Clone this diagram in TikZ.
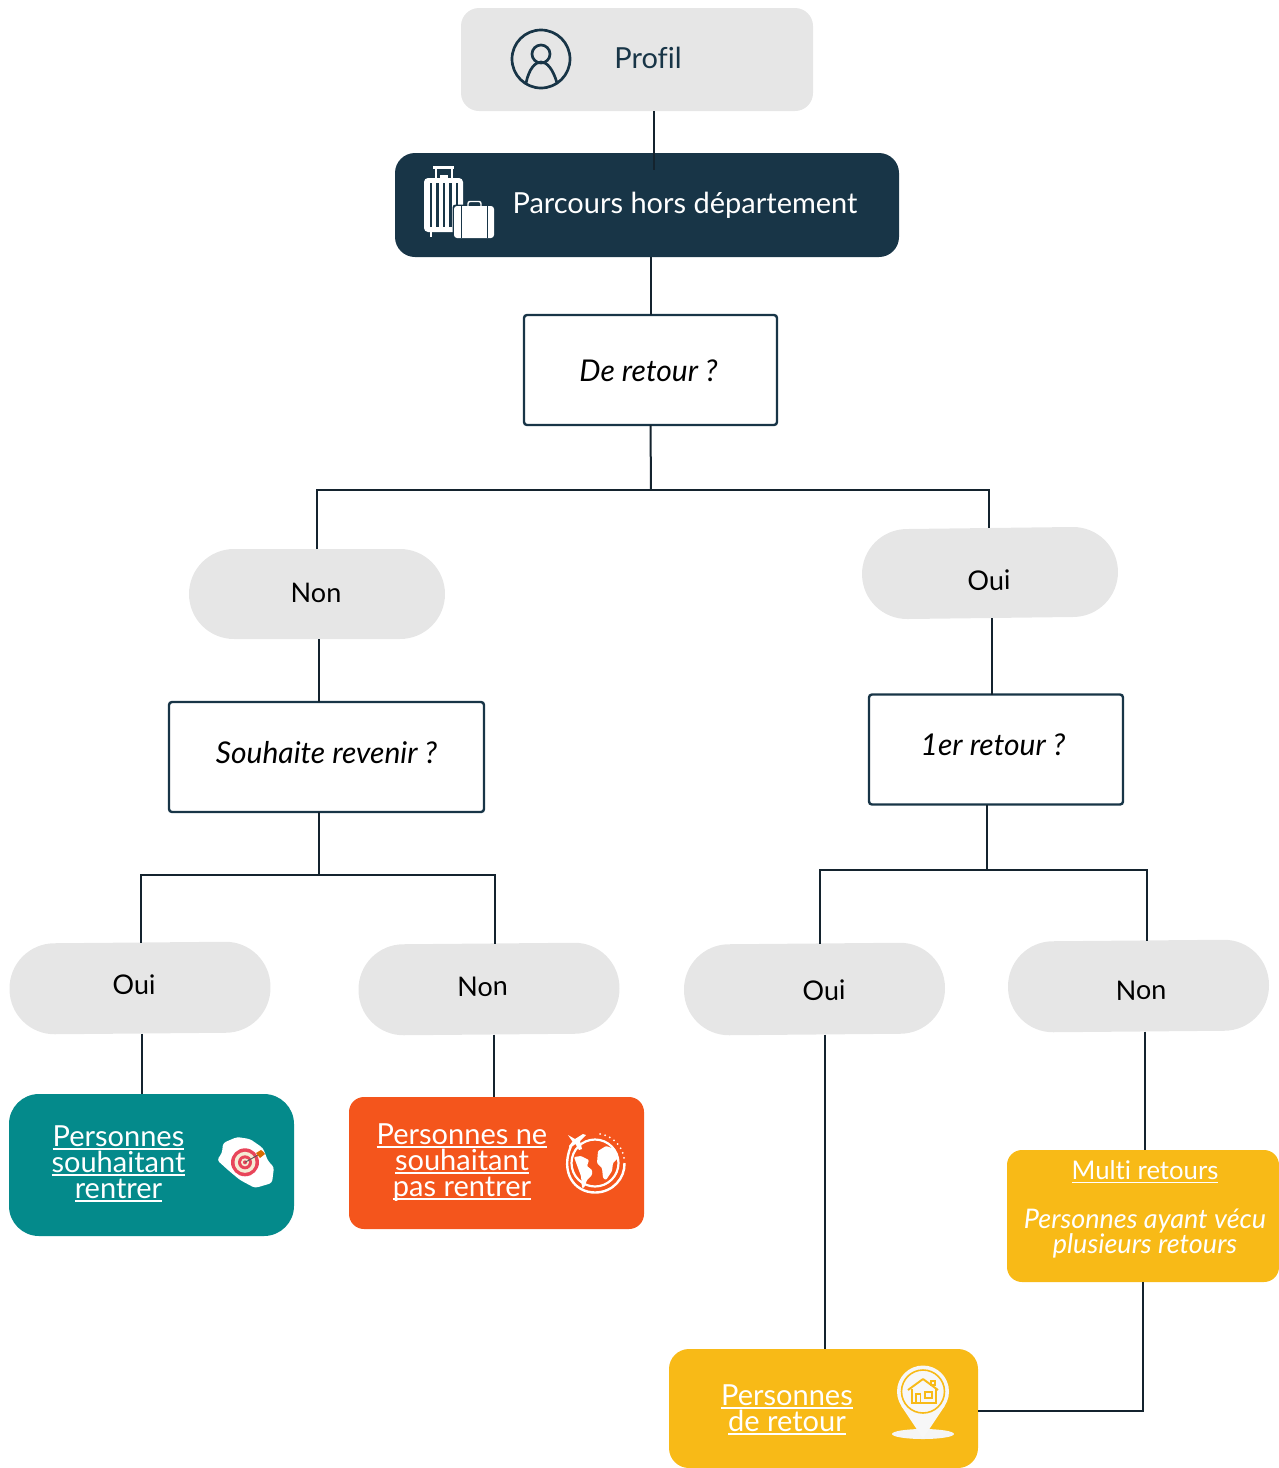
\documentclass[tikz,border=0pt]{standalone}
\usepackage{fontspec}
\usetikzlibrary{calc}
\setmainfont[Ligatures=NoCommon]{Lato}
\definecolor{navy}{HTML}{183547}
\definecolor{greybox}{HTML}{E6E6E6}
\definecolor{tealbox}{HTML}{048A8B}
\definecolor{orangebox}{HTML}{F4551C}
\definecolor{yellowbox}{HTML}{F8BA17}
\definecolor{tgtred}{HTML}{E8455A}
\definecolor{tgtcream}{HTML}{F5EBD5}
\definecolor{linecol}{HTML}{14232E}
% shifted text block: dx right, dy down from the centre of the node; size, leading; lines
\newcommand\boxtext[5]{\raisebox{\dimexpr-#2pt-10.5pt\relax}[0pt][0pt]{\makebox[0pt]{\hspace{\dimexpr 2\dimexpr #1pt\relax\relax}\fontsize{#3}{#4}\selectfont\begin{tabular}{@{}c@{}}#5\end{tabular}}}}
\newcommand\ulk[1]{\smash{\setbox0\hbox{#1}\rlap{\rule[-3.5pt]{\wd0}{1.7pt}}\box0}}
\newcommand\itl[1]{\smash{\fontsize{27}{24.5}\selectfont\itshape #1}}
\tikzset{
  x=1pt,y=-1pt,
  base/.style={inner sep=0pt,outer sep=0pt,anchor=center},
  softbox/.style={base,fill=greybox,rounded corners=18pt,text=navy},
  darkbox/.style={base,fill=navy,rounded corners=20pt,text=white},
  question/.style={base,draw=navy,line width=2.4pt,rounded corners=3pt,fill=white,text=black},
  pill/.style={base,fill=greybox,rounded corners=45pt,text=black},
  result/.style={base,text=white},
  link/.style={draw=linecol,line width=2pt},
}
\begin{document}
\begin{tikzpicture}
\useasboundingbox (0,0) rectangle (1279,1468);
% nodes
\node[softbox,minimum width=352pt,minimum height=103pt] (profil) at (637,59.5) {\boxtext{11}{-1.5}{29}{29}{Profil}};
\node[darkbox,minimum width=504pt,minimum height=104pt] (parcours) at (647,205) {\boxtext{38}{-2}{29}{29}{Parcours hors département}};
\node[question,minimum width=253pt,minimum height=110pt] (deretour) at (650.5,370) {\boxtext{-2}{1}{30}{30}{\itshape De retour ?}};
\node[pill,minimum width=256pt,minimum height=90pt] (nonA) at (317,594) {\boxtext{-1}{-1}{27}{27}{Non}};
\node[pill,minimum width=256pt,minimum height=90pt,rotate=0.7] (ouiA) at (990,573) {\boxtext{-1}{7}{27}{27}{Oui}};
\node[question,minimum width=315pt,minimum height=110pt] (souhaite) at (326.5,757) {\boxtext{0}{-4}{30}{30}{\itshape Souhaite revenir ?}};
\node[question,minimum width=254pt,minimum height=110pt] (premier) at (996,749.5) {\boxtext{-3}{-4.5}{30}{30}{\itshape 1er retour ?}};
\node[pill,minimum width=261pt,minimum height=91pt,rotate=0.5] (ouiB) at (140,988) {\boxtext{-6}{-4}{27}{27}{Oui}};
\node[pill,minimum width=261pt,minimum height=91pt,rotate=0.5] (nonB) at (489,989) {\boxtext{-6.5}{-3}{27}{27}{Non}};
\node[pill,minimum width=261pt,minimum height=91pt,rotate=0.5] (ouiC) at (814.5,989) {\boxtext{9.5}{1}{27}{27}{Oui}};
\node[pill,minimum width=261pt,minimum height=91pt,rotate=0.5] (nonC) at (1138.5,986) {\boxtext{2.5}{4}{27}{27}{Non}};
\node[result,fill=tealbox,rounded corners=30pt,minimum width=285pt,minimum height=142pt] (souhaitant) at (151.5,1165) {\boxtext{-33}{-2}{29}{26}{\ulk{Personnes}\\ \ulk{souhaitant}\\ \ulk{rentrer}}};
\node[result,fill=orangebox,rounded corners=15pt,minimum width=295pt,minimum height=132pt] (nepas) at (496.5,1163) {\boxtext{-34.5}{-2}{29}{26}{\ulk{Personnes ne}\\ \ulk{souhaitant}\\ \ulk{pas rentrer}}};
\node[result,fill=yellowbox,rounded corners=15pt,minimum width=272pt,minimum height=132pt] (multi) at (1143,1216) {\boxtext{2}{-8.5}{25.7}{24.5}{\ulk{Multi retours}\\ \\ \itl{Personnes ayant vécu}\\ \itl{plusieurs retours}}};
\node[result,fill=yellowbox,rounded corners=20pt,minimum width=309pt,minimum height=119pt] (retour) at (823.5,1408.5) {\boxtext{-36.5}{0.5}{29}{26}{\ulk{Personnes}\\ \ulk{de retour}}};
% branching points
\coordinate (jA) at (651,490);
\coordinate (jB) at (318.5,875);
\coordinate (jC) at (986.5,870);
\coordinate (jD) at (1143,1411);
% connectors
\draw[link] ([xshift=17pt]profil.south) -- ([xshift=7pt,yshift=-17pt]parcours.north);
\draw[link] (parcours.south -| deretour.south) -- (deretour.north);
\draw[link] (deretour.south) -- (jA);
\draw[link] (nonA.north) -- (nonA.north |- jA) -- (ouiA.north |- jA) -- (ouiA.north);
\draw[link] (nonA.south -| jB) -- (souhaite.north -| jB);
\draw[link] ([xshift=1pt]ouiA.south) -- ([xshift=1pt]ouiA.south |- premier.north);
\draw[link] (souhaite.south -| jB) -- (jB);
\draw[link] ([xshift=1.5pt]ouiB.north) -- ([xshift=1.5pt]ouiB.north |- jB) -- ([xshift=6pt]nonB.north |- jB) -- ([xshift=6pt]nonB.north);
\draw[link] (premier.south -| jC) -- (jC);
\draw[link] ([xshift=5.5pt]ouiC.north) -- ([xshift=5.5pt]ouiC.north |- jC) -- ([xshift=8.5pt]nonC.north |- jC) -- ([xshift=8.5pt]nonC.north);
\draw[link] ([xshift=1.5pt]ouiB.south) -- ([xshift=1.5pt]ouiB.south |- souhaitant.north);
\draw[link] ([xshift=5pt]nonB.south) -- ([xshift=5pt]nonB.south |- nepas.north);
\draw[link] ([xshift=10pt]ouiC.south) -- ([xshift=10pt]ouiC.south |- retour.north);
\draw[link] ([xshift=6pt]nonC.south) -- ([xshift=6pt]nonC.south |- multi.north);
\draw[link] (multi.south) -- (jD) -- (retour.east |- jD);
% icon: profile
\draw[navy,line width=2.7pt] (541,59) circle[radius=29];
\draw[navy,line width=2.7pt] (541,54) circle[radius=9];
\draw[navy,line width=2.7pt] (526,83) .. controls (529,69) and (535,62) .. (541,62) .. controls (547,62) and (553,69) .. (557,83);
% icon: luggage
\begin{scope}
\fill[white,rounded corners=4pt] (424,178) rectangle (463,232);
\foreach \sx in {429.5,436,442.5,449,455.5}{\fill[navy] (\sx,183) rectangle ++(2.6,44);}
\fill[white] (433,166) rectangle (454,168.5);
\fill[white] (434.5,168) rectangle (436.8,178);
\fill[white] (451,168) rectangle (453.3,178);
\fill[white] (439.5,175) rectangle (448,178);
\fill[white] (429.5,232) rectangle (432,237);
\fill[navy,rounded corners=3pt] (452.5,204.5) rectangle (495.5,239);
\draw[white,line width=1.4pt,rounded corners=2pt] (468,206) -- (468,201.5) -- (481,201.5) -- (481,206);
\fill[white,rounded corners=3pt] (454,206) rectangle (494,238);
\draw[navy,line width=.9pt] (461,206) -- (461,238) (487,206) -- (487,238);
\end{scope}
% icon: Reunion island with target
\fill[white,rounded corners=3pt] (223,1143) -- (237,1137) -- (250,1139) -- (263,1148) -- (268,1161) -- (274,1167) -- (272,1183) -- (255,1188) -- (240,1180) -- (228,1170) -- (217,1160) -- (222,1153) -- cycle;
\fill[tgtred] (245,1162.3) circle[radius=14];
\fill[tgtcream] (245,1162.3) circle[radius=10.5];
\fill[tgtred] (245,1162.3) circle[radius=7];
\fill[tgtcream] (245,1162.3) circle[radius=4];
\fill[tgtred] (245,1162.3) circle[radius=2];
\draw[gray!70!black,line width=.9pt] (245,1162.3) -- (258,1155);
\fill[orange!85!black] (256,1153) -- (261,1150) -- (263,1151.5) -- (265,1154) -- (260,1158) -- cycle;
% icon: globe
\draw[white,line width=2.2pt] (595,1163) circle[radius=23.5];
\draw[white,line width=2.4pt] (571,1146) .. controls (560,1172) and (574,1192.5) .. (595,1192.5) .. controls (613,1192.5) and (625,1178) .. (624.5,1163);
\foreach \ang in {-80,-70,...,-5}{\fill[white] ($(595,1163)+(\ang:29.5)$) circle[radius=1];}
\fill[white] (568,1135) -- (575,1139) -- (583,1134) -- (586,1135) -- (580,1141) -- (582,1149) -- (579,1150) -- (575.5,1144) -- (570,1148) -- (569,1146) -- (572.5,1141.5) -- cycle;
\fill[white,rounded corners=1pt] (574,1157) -- (581,1156) -- (589,1160) -- (587,1166) -- (592,1170) -- (592,1175) -- (587,1180) -- (584,1188) -- (582,1188) -- (581,1176) -- (578,1168) -- cycle;
\fill[white,rounded corners=1pt] (598,1151) -- (606,1146) -- (615,1149) -- (618,1158) -- (613,1163) -- (612,1171) -- (606,1180) -- (603,1178) -- (602,1168) -- (597,1163) -- cycle;
% icon: pin with house
\fill[white!96!black] (923,1434) ellipse[x radius=31,y radius=5];
\fill[white!97!black] (923,1391.5) circle[radius=26];
\fill[white!97!black] (901,1405.5) -- (945,1405.5) -- (923,1438.5) -- cycle;
\draw[yellowbox,line width=1.6pt] (923,1391.5) circle[radius=21.5];
\draw[yellowbox,line width=1.9pt,line join=round] (908,1390) -- (923,1379) -- (938,1390);
\draw[yellowbox,line width=1.7pt] (912,1389) -- (912,1403) -- (936,1403) -- (936,1389);
\draw[yellowbox,line width=1.4pt] (916,1403) -- (916,1394) -- (920.5,1394) -- (920.5,1403);
\draw[yellowbox,line width=1.4pt] (925,1392) rectangle (932,1398);
\draw[yellowbox,line width=1.4pt] (931,1381) rectangle (935,1385);
\end{tikzpicture}
\end{document}
